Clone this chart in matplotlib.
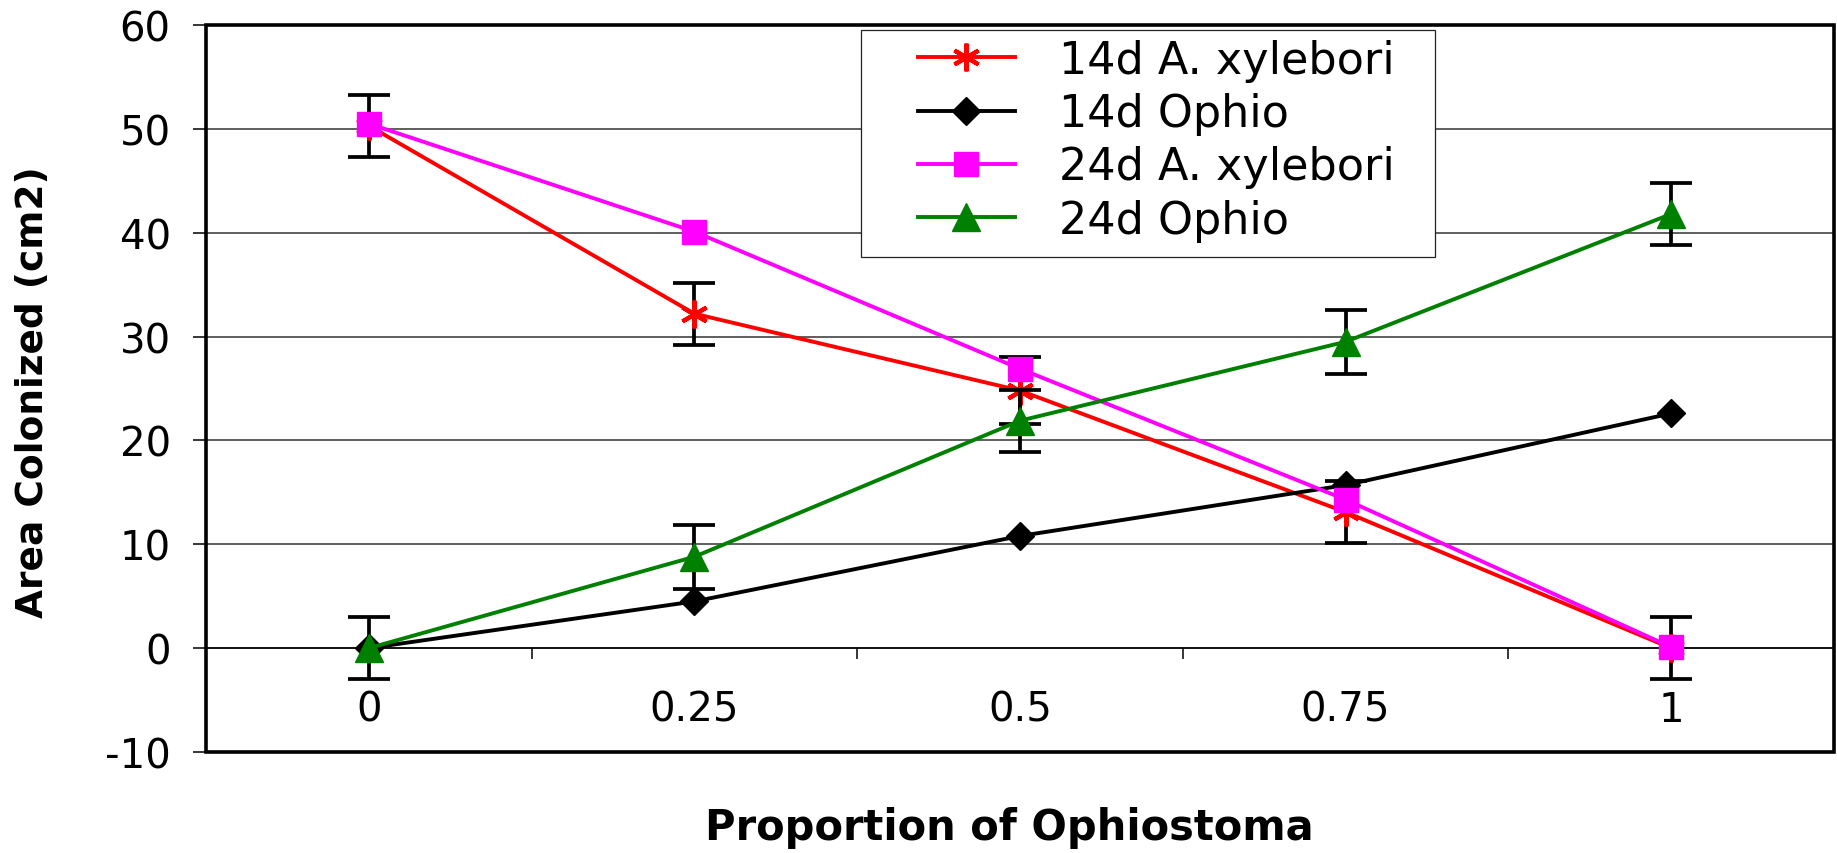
import matplotlib
matplotlib.use("Agg")
import matplotlib.pyplot as plt
from matplotlib.ticker import FixedLocator, NullFormatter
from matplotlib.patches import Rectangle
from matplotlib.markers import MarkerStyle

plt.rcParams['font.family'] = ['DejaVu Sans']
plt.rcParams['axes.unicode_minus'] = False

# ---- data ----
categories = ['0', '0.25', '0.5', '0.75', '1']
xyl_14d = [50.3, 32.2, 24.8, 13.1, 0.0]
xyl_14d_err = [3.0, 3.0, 3.2, 3.0, 3.0]
oph_14d = [0.0, 4.5, 10.8, 15.7, 22.6]
xyl_24d = [50.5, 40.1, 26.9, 14.3, 0.1]
oph_24d = [0.0, 8.8, 21.9, 29.5, 41.8]
oph_24d_err = [3.0, 3.1, 3.0, 3.1, 3.0]
labels = ['14d A. xylebori', '14d Ophio', '24d A. xylebori', '24d Ophio']
y_ticks = [-10, 0, 10, 20, 30, 40, 50, 60]

W, H = 1837, 854
fig = plt.figure(figsize=(W / 100, H / 100), dpi=100)
ax = fig.add_axes([206 / W, 1 - 753 / H, 1628 / W, 727 / H])

lw = 2.8
eb_kw = dict(fmt='none', ecolor='black', elinewidth=2.7, capsize=15, capthick=2.7)

ax.errorbar(categories, xyl_14d, yerr=xyl_14d_err, zorder=3, **eb_kw)
ax.plot(categories, xyl_14d, color='#FF0000', lw=lw, marker=MarkerStyle((6, 2, 0)),
        ms=20, mew=3.0, mec='#FF0000', label=labels[0], zorder=4)
ax.plot(categories, oph_14d, color='black', lw=lw, marker='D', ms=14.5,
        mfc='black', mec='black', label=labels[1], zorder=5)
ax.plot(categories, xyl_24d, color='#FF00FF', lw=lw, marker='s', ms=17.5,
        mfc='#FF00FF', mec='#FF00FF', label=labels[2], zorder=6)
ax.errorbar(categories, oph_24d, yerr=oph_24d_err, zorder=7, **eb_kw)
ax.plot(categories, oph_24d, color='#008000', lw=lw, marker='^', ms=20,
        mfc='#008000', mec='#008000', label=labels[3], zorder=8)

ax.set_xlim(-0.5, len(categories) - 0.5)
ax.set_ylim(-10, 60)
ax.set_yticks(y_ticks)
ax.set_yticklabels([str(v) for v in y_ticks])

# horizontal gridlines
ax.yaxis.grid(True, color='#333333', lw=1.1)
ax.set_axisbelow(True)

# spines: x axis line at y = 0, box drawn as rectangle
for s in ['top', 'right', 'left']:
    ax.spines[s].set_visible(False)
ax.spines['bottom'].set_position(('data', 0))
ax.spines['bottom'].set_linewidth(1.1)
ax.spines['bottom'].set_color('black')
ax.add_patch(Rectangle((0, 0), 1, 1, transform=ax.transAxes, fill=False,
                       ec='black', lw=2.6, clip_on=False, zorder=20))

# x ticks: labels at category centres, tick marks between categories
ax.tick_params(axis='x', which='major', length=0, pad=30, labelsize=29)
ax.xaxis.set_minor_locator(FixedLocator([i + 0.5 for i in range(len(categories) - 1)]))
ax.xaxis.set_minor_formatter(NullFormatter())
ax.tick_params(axis='x', which='minor', length=8, width=1.1, direction='out')
ax.tick_params(axis='y', length=9.4, width=1.1, direction='out', pad=16, labelsize=29)

ax.set_ylabel('Area Colonized (cm2)', fontsize=27, fontweight='bold')
ax.yaxis.set_label_coords(51 / W, 1 - 392 / H, transform=fig.transFigure)
fig.text(1009 / W, 1 - 828 / H, 'Proportion of Ophiostoma', fontsize=30,
         fontweight='bold', ha='center', va='center')

# legend: entries placed without own frame, frame drawn as a box behind them
leg_box = (861, 31, 1435, 258)  # left, top, right, bottom in pixels
ax.add_patch(Rectangle((leg_box[0] / W, 1 - leg_box[3] / H),
                       (leg_box[2] - leg_box[0]) / W, (leg_box[3] - leg_box[1]) / H,
                       transform=fig.transFigure, fc='white', ec='#222222',
                       lw=0.9, zorder=25, clip_on=False))
leg = ax.legend(loc='upper left', bbox_to_anchor=(918 / W, 1 - 40 / H),
                bbox_transform=fig.transFigure, fontsize=32, frameon=False,
                borderpad=0, handlelength=2.18, handletextpad=1.0,
                labelspacing=0.23, borderaxespad=0, numpoints=1)
leg.set_zorder(30)
for h in leg.legend_handles:
    h.set_linewidth(2.8)

fig.savefig('out.png', dpi=100)
